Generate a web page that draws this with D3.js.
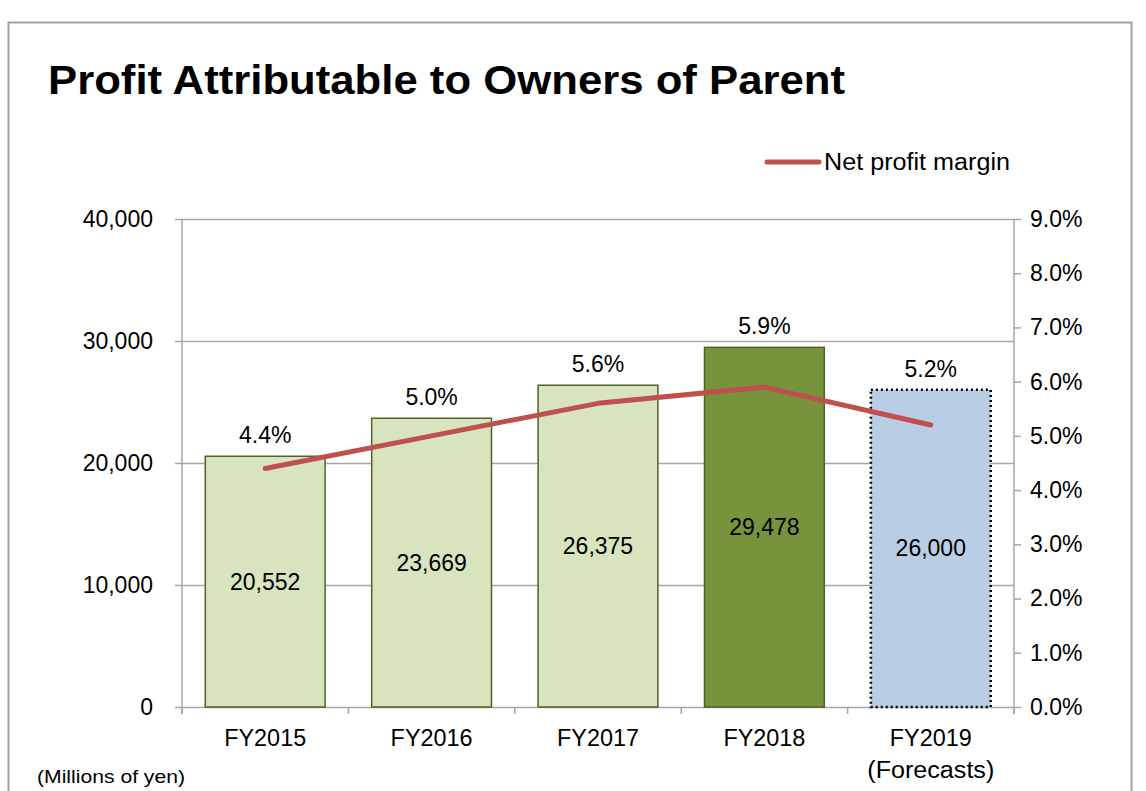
<!DOCTYPE html>
<html lang="en">
<head>
  <meta charset="UTF-8">
  <title>Profit Attributable to Owners of Parent</title>
  <script src="https://d3js.org/d3.v7.min.js"></script>
  <style>
    body { margin: 0; background: #fff; }
    text { font-family: "Liberation Sans", Arial, sans-serif; fill: #000; }
  </style>
</head>
<body>
  <svg width="1146" height="791"></svg>

  <script>
    // Chart data
    const years = ["FY2015", "FY2016", "FY2017", "FY2018", "FY2019"];
    const profit = [20552, 23669, 26375, 29478, 26000];
    const margin = [4.4, 5.0, 5.6, 5.9, 5.2];
    const leftTicks = [0, 10000, 20000, 30000, 40000];
    const rightTicks = [0, 1, 2, 3, 4, 5, 6, 7, 8, 9];

    const svg = d3.select("svg");
    const fs = 23;

    // Outer frame
    svg.append("rect")
      .attr("x", 8.5).attr("y", 22.5)
      .attr("width", 1123).attr("height", 800)
      .attr("fill", "none").attr("stroke", "#a0a0a0").attr("stroke-width", 2);

    // Title
    svg.append("text")
      .attr("x", 48).attr("y", 94)
      .attr("font-size", 41).attr("font-weight", "bold")
      .attr("textLength", 797).attr("lengthAdjust", "spacingAndGlyphs")
      .text("Profit Attributable to Owners of Parent");

    // Plot area
    const plot = { left: 182, right: 1014, top: 219, bottom: 707 };

    const x = d3.scaleBand()
      .domain(years)
      .range([plot.left, plot.right])
      .paddingInner(0.28)
      .paddingOuter(0.14);

    const yL = d3.scaleLinear().domain([0, 40000]).range([plot.bottom, plot.top]);
    const yR = d3.scaleLinear().domain([0, 9]).range([plot.bottom, plot.top]);

    const g = svg.append("g");

    // Gridlines
    g.selectAll("line.grid")
      .data(leftTicks)
      .enter().append("line")
      .attr("x1", plot.left).attr("x2", plot.right)
      .attr("y1", d => yL(d) + 0.5).attr("y2", d => yL(d) + 0.5)
      .attr("stroke", "#a6a6a6").attr("stroke-width", 1.5);

    // Left axis
    const leftAxis = d3.axisLeft(yL)
      .tickValues(leftTicks)
      .tickSize(7)
      .tickPadding(22)
      .tickFormat(d3.format(","));
    const la = svg.append("g").attr("transform", `translate(${plot.left},0)`).call(leftAxis);

    // Right axis
    const rightAxis = d3.axisRight(yR)
      .tickValues(rightTicks)
      .tickSize(7)
      .tickPadding(9)
      .tickFormat(d => d.toFixed(1) + "%");
    const ra = svg.append("g").attr("transform", `translate(${plot.right},0)`).call(rightAxis);

    // Bottom axis (ticks at category boundaries)
    const bounds = d3.range(years.length + 1).map(i => plot.left + i * x.step());
    svg.append("g").selectAll("line")
      .data(bounds)
      .enter().append("line")
      .attr("x1", d => d).attr("x2", d => d)
      .attr("y1", plot.bottom).attr("y2", plot.bottom + 7)
      .attr("stroke", "#a6a6a6").attr("stroke-width", 1.5);

    [la, ra].forEach(a => {
      a.select(".domain").attr("stroke", "#a6a6a6").attr("stroke-width", 1.5);
      a.selectAll(".tick line").attr("stroke", "#a6a6a6").attr("stroke-width", 1.5);
      a.selectAll(".tick text")
        .attr("font-size", fs)
        .attr("font-family", "Liberation Sans, Arial, sans-serif")
        .attr("fill", "#000");
    });
    la.select(".domain").attr("d", `M0,${plot.top}V${plot.bottom + 7}`);
    ra.select(".domain").attr("d", `M0,${plot.top}V${plot.bottom + 7}`);

    // Bars
    const fills = ["#d7e4bd", "#d7e4bd", "#d7e4bd", "#77933c", "#b9cde5"];
    const strokes = ["#4f6228", "#4f6228", "#4f6228", "#4f6228", "#000"];

    g.selectAll("rect.bar")
      .data(profit)
      .enter().append("rect")
      .attr("class", "bar")
      .attr("x", (d, i) => x(years[i]))
      .attr("y", d => yL(d))
      .attr("width", x.bandwidth())
      .attr("height", d => yL(0) - yL(d))
      .attr("fill", (d, i) => fills[i])
      .attr("stroke", (d, i) => strokes[i])
      .attr("stroke-width", (d, i) => i === 4 ? 2.5 : 1.5)
      .attr("stroke-dasharray", (d, i) => i === 4 ? "2,3" : null);

    // Bar value labels
    g.selectAll("text.val")
      .data(profit)
      .enter().append("text")
      .attr("x", (d, i) => x(years[i]) + x.bandwidth() / 2)
      .attr("y", d => (yL(d) + yL(0)) / 2)
      .attr("dy", "0.35em")
      .attr("text-anchor", "middle")
      .attr("font-size", fs)
      .text(d => d3.format(",")(d));

    // Net profit margin line
    const line = d3.line()
      .x((d, i) => x(years[i]) + x.bandwidth() / 2)
      .y(d => yR(d));

    g.append("path")
      .datum(margin)
      .attr("d", line)
      .attr("fill", "none")
      .attr("stroke", "#c0504d")
      .attr("stroke-width", 5)
      .attr("stroke-linecap", "round")
      .attr("stroke-linejoin", "round");

    // Margin labels above bars
    g.selectAll("text.pct")
      .data(margin)
      .enter().append("text")
      .attr("x", (d, i) => x(years[i]) + x.bandwidth() / 2)
      .attr("y", (d, i) => yL(profit[i]) - 21)
      .attr("dy", "0.35em")
      .attr("text-anchor", "middle")
      .attr("font-size", fs)
      .text(d => d.toFixed(1) + "%");

    // Category labels
    svg.selectAll("text.cat")
      .data(years)
      .enter().append("text")
      .attr("x", d => x(d) + x.bandwidth() / 2)
      .attr("y", 746)
      .attr("text-anchor", "middle")
      .attr("font-size", fs)
      .attr("textLength", 82).attr("lengthAdjust", "spacingAndGlyphs")
      .text(d => d);

    svg.append("text")
      .attr("x", x("FY2019") + x.bandwidth() / 2)
      .attr("y", 778)
      .attr("text-anchor", "middle")
      .attr("font-size", fs)
      .attr("textLength", 127).attr("lengthAdjust", "spacingAndGlyphs")
      .text("(Forecasts)");

    // Unit note
    svg.append("text")
      .attr("x", 37).attr("y", 783)
      .attr("font-size", 19)
      .attr("textLength", 148).attr("lengthAdjust", "spacingAndGlyphs")
      .text("(Millions of yen)");

    // Legend
    svg.append("line")
      .attr("x1", 767).attr("x2", 819)
      .attr("y1", 162).attr("y2", 162)
      .attr("stroke", "#c0504d").attr("stroke-width", 5)
      .attr("stroke-linecap", "round");
    svg.append("text")
      .attr("x", 824).attr("y", 162)
      .attr("dy", "0.35em")
      .attr("font-size", fs)
      .attr("textLength", 186).attr("lengthAdjust", "spacingAndGlyphs")
      .text("Net profit margin");
  </script>
</body>
</html>
